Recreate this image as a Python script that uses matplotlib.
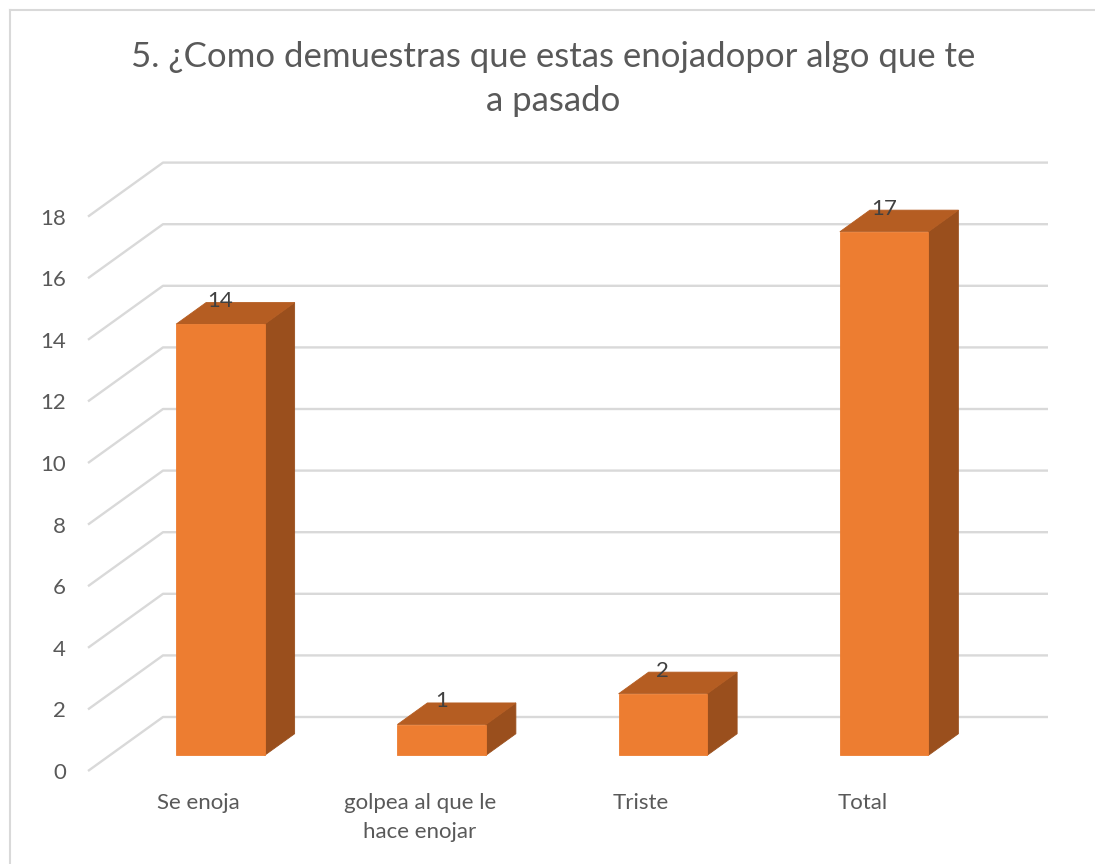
import matplotlib
matplotlib.use("Agg")
import matplotlib.pyplot as plt
from matplotlib.patches import Polygon
from matplotlib.lines import Line2D

# ---- data ----
title = "5. ¿Como demuestras que estas enojadopor algo que te\na pasado"
categories = ["Se enoja", "golpea al que le\nhace enojar", "Triste", "Total"]
values = [14, 1, 2, 17]
yticks = [0, 2, 4, 6, 8, 10, 12, 14, 16, 18]

# ---- style ----
FRONT = "#ED7D31"
TOP = "#B55D22"
SIDE = "#9A4F1D"
GRID = "#D9D9D9"
TXT = "#595959"
plt.rcParams['font.family'] = ['Lato', 'DejaVu Sans']

W, H = 1095, 864
fig = plt.figure(figsize=(W / 100, H / 100), dpi=100)

left_px, right_px, y0_px, ytop_px = 88, 973, 771, 216.6
ax = fig.add_axes([left_px / W, (H - y0_px) / H, (right_px - left_px) / W, (y0_px - ytop_px) / H])
n = len(categories)
ax.set_xlim(0, n)
ax.set_ylim(0, 18)
for s in ax.spines.values():
    s.set_visible(False)

# depth (oblique projection) offsets in data units
px_per_x = (right_px - left_px) / n
px_per_y = (y0_px - ytop_px) / 18
kx = 75 / px_per_x
ky = 54 / px_per_y

# gridlines (floor-to-back-wall)
for v in yticks:
    ax.plot([0, kx, n + kx], [v, v + ky, v + ky], color=GRID, lw=1.7,
            clip_on=False, zorder=0, solid_capstyle='butt')

ax.set_yticks(yticks)
ax.set_yticklabels([str(t) for t in yticks])
ax.set_xticks([i + 0.5 for i in range(n)])
ax.set_xticklabels(categories)
ax.tick_params(axis='y', length=0, pad=16, labelsize=16, labelcolor=TXT)
ax.tick_params(axis='x', length=0, pad=16, labelsize=16, labelcolor=TXT)
for lab in ax.get_xticklabels():
    lab.set_linespacing(1.55)

# 3D bars
bw = 0.4
d0, d1 = 0.29, 0.69
for i, v in enumerate(values):
    x0 = i + 0.5 - bw / 2
    x1 = i + 0.5 + bw / 2
    fx, fy = d0 * kx, d0 * ky
    bx, by = d1 * kx, d1 * ky
    front = [(x0 + fx, fy), (x1 + fx, fy), (x1 + fx, v + fy), (x0 + fx, v + fy)]
    side = [(x1 + fx, fy), (x1 + bx, by), (x1 + bx, v + by), (x1 + fx, v + fy)]
    top = [(x0 + fx, v + fy), (x1 + fx, v + fy), (x1 + bx, v + by), (x0 + bx, v + by)]
    for poly, col in ((side, SIDE), (top, TOP), (front, FRONT)):
        ax.add_patch(Polygon(poly, closed=True, facecolor=col, edgecolor=col,
                             lw=0.6, clip_on=False, zorder=3))
    ax.text(i + 0.5 + fx, v + by + 0.05, str(v), ha='center', va='center',
            fontsize=16, color="#404040", zorder=5, clip_on=False)

# title
fig.text(553 / W, 1 - 79 / H, title, ha='center', va='center', fontsize=25,
         color=TXT, linespacing=1.45)

# chart border (top and left visible)
fig.add_artist(Line2D([10 / W, 1], [1 - 10 / H, 1 - 10 / H], transform=fig.transFigure,
                      color=GRID, lw=1.5))
fig.add_artist(Line2D([10 / W, 10 / W], [0, 1 - 10 / H], transform=fig.transFigure,
                      color=GRID, lw=1.5))

fig.savefig("out.png", dpi=100, facecolor="white")
